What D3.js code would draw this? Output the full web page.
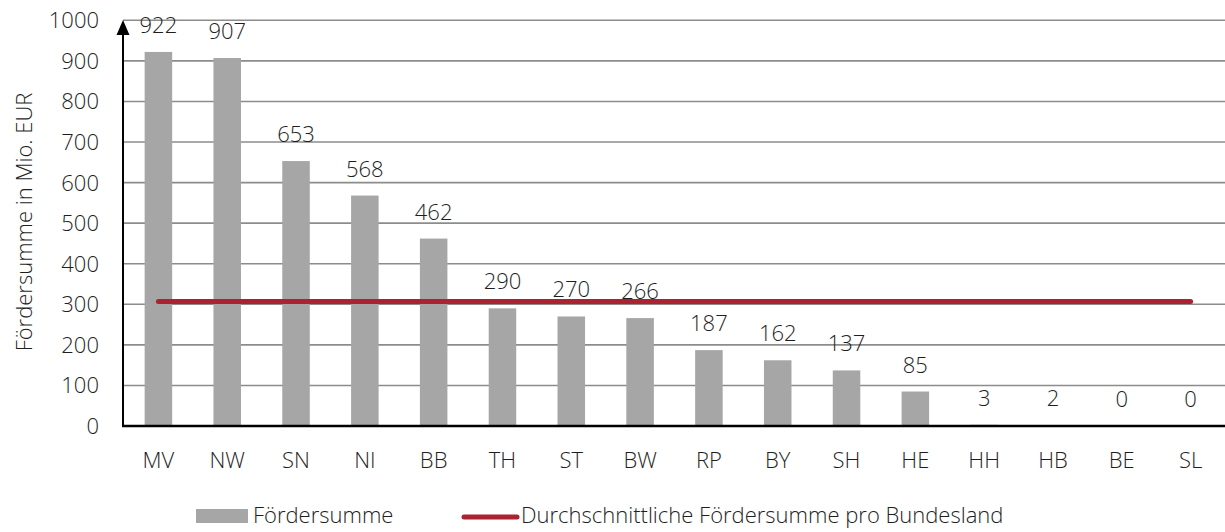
<!DOCTYPE html>
<html>
<head>
<meta charset="utf-8">
<script src="https://cdn.jsdelivr.net/npm/d3@7"></script>
<style>
body { margin: 0; background: #fff; }
text { font-family: "Open Sans", "Noto Sans", sans-serif; font-weight: 300; fill: #1e1e1e; font-size: 22px; }
</style>
</head>
<body>
<div id="content"></div>
<script>
var laender = ['MV', 'NW', 'SN', 'NI', 'BB', 'TH', 'ST', 'BW', 'RP', 'BY', 'SH', 'HE', 'HH', 'HB', 'BE', 'SL'];
var foerdersumme = [922, 907, 653, 568, 462, 290, 270, 266, 187, 162, 137, 85, 3, 2, 0, 0];
var durchschnitt = 307;
var yTicks = [0, 100, 200, 300, 400, 500, 600, 700, 800, 900, 1000];

var svg = d3.select('#content').append('svg')
    .attr('width', 1225)
    .attr('height', 532);

var x = d3.scaleBand().domain(laender).range([124, 1225]).paddingInner(0.6).paddingOuter(0.3);
var y = d3.scaleLinear().domain([0, 1000]).range([426, 20.3]);

// gridlines
svg.append('g').selectAll('line').data(yTicks.slice(1)).enter().append('line')
    .attr('x1', 123).attr('x2', 1225)
    .attr('y1', function(d) { return y(d); })
    .attr('y2', function(d) { return y(d); })
    .attr('stroke', '#8c8c8c').attr('stroke-width', 1.6);

// y tick labels
svg.append('g').selectAll('text').data(yTicks).enter().append('text')
    .attr('x', 99)
    .attr('y', function(d) { return y(d) + 8; })
    .attr('text-anchor', 'end')
    .text(function(d) { return d; });

// bars
svg.append('g').selectAll('rect').data(foerdersumme).enter().append('rect')
    .attr('x', function(d, i) { return x(laender[i]); })
    .attr('width', x.bandwidth())
    .attr('y', function(d) { return y(d); })
    .attr('height', function(d) { return y(0) - y(d); })
    .attr('fill', '#a6a6a6');

// value labels
svg.append('g').selectAll('text').data(foerdersumme).enter().append('text')
    .attr('x', function(d, i) { return x(laender[i]) + x.bandwidth() / 2; })
    .attr('y', function(d) { return y(d) - 19; })
    .attr('text-anchor', 'middle')
    .text(function(d) { return d; });

// average line
svg.append('line')
    .attr('x1', x('MV') + x.bandwidth() / 2)
    .attr('x2', x('SL') + x.bandwidth() / 2)
    .attr('y1', y(durchschnitt)).attr('y2', y(durchschnitt))
    .attr('stroke', '#ab2330').attr('stroke-width', 5).attr('stroke-linecap', 'round');

// x axis
svg.append('line').attr('x1', 122).attr('x2', 1225).attr('y1', 426).attr('y2', 426)
    .attr('stroke', '#000').attr('stroke-width', 2.5);

// y axis with arrow
svg.append('line').attr('x1', 123).attr('x2', 123).attr('y1', 30).attr('y2', 427)
    .attr('stroke', '#000').attr('stroke-width', 2);
svg.append('path').attr('d', 'M123,20 L116.5,35 L129.5,35 Z').attr('fill', '#000');

// x labels
svg.append('g').selectAll('text').data(laender).enter().append('text')
    .attr('x', function(d) { return x(d) + x.bandwidth() / 2; })
    .attr('y', 468)
    .attr('text-anchor', 'middle')
    .text(function(d) { return d; });

// y axis title
svg.append('text')
    .attr('transform', 'translate(32,222) rotate(-90)')
    .attr('text-anchor', 'middle')
    .text('Fördersumme in Mio. EUR');

// legend
svg.append('rect').attr('x', 196).attr('y', 509).attr('width', 52).attr('height', 14).attr('fill', '#a6a6a6');
svg.append('text').attr('x', 253).attr('y', 523).text('Fördersumme');
svg.append('line').attr('x1', 464).attr('x2', 517).attr('y1', 517).attr('y2', 517)
    .attr('stroke', '#ab2330').attr('stroke-width', 5).attr('stroke-linecap', 'round');
svg.append('text').attr('x', 521).attr('y', 523).text('Durchschnittliche Fördersumme pro Bundesland');
</script>
</body>
</html>
